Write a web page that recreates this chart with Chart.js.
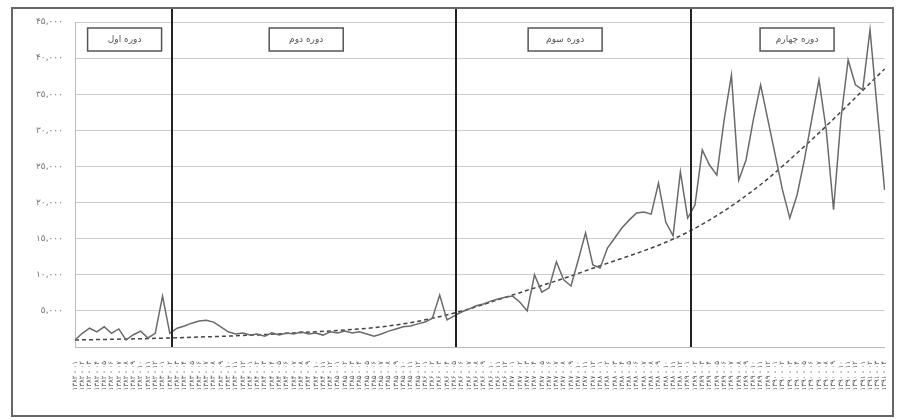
<!DOCTYPE html>
<html>
<head>
<meta charset="utf-8">
<script src="https://cdn.jsdelivr.net/npm/chart.js@4.4.1/dist/chart.umd.min.js"></script>
<style>
  html, body { margin: 0; padding: 0; background: #fff; }
  #wrap { width: 899px; height: 420px; }
</style>
</head>
<body>
<div id="wrap"><canvas id="grafico"></canvas></div>
<script>
const fa = s => String(s).replace(/\d/g, d => '۰۱۲۳۴۵۶۷۸۹'[d]);

// monthly labels
const anos = [1382, 1383, 1384, 1385, 1386, 1387, 1388, 1389, 1390, 1391];
const meses = ['۰۱', '۰۲', '۰۳', '۰۴', '۰۵', '۰۶', '۰۷', '۰۸', '۰۹', '۱۰', '۱۱', '۱۲'];
const rotulos = [];
anos.forEach(a => meses.forEach(m => rotulos.push(fa(a) + ' - ' + m)));
rotulos.length = 112;

const serie = [
  970, 1900, 2600, 2100, 2800, 1900, 2500, 970, 1700, 2200, 1250, 1900, 7050,
  1900, 2600, 2900, 3300, 3600, 3700, 3450, 2800, 2100, 1800, 1950, 1650, 1800,
  1500, 1950, 1650, 1950, 1800, 2100, 1800, 1950, 1650, 2100, 1950, 2200, 1950,
  2100, 1800, 1500, 1800, 2200, 2500, 2800, 2900, 3200, 3450, 4000, 7200, 3750,
  4300, 4850, 5250, 5700, 5950, 6350, 6650, 6900, 7050, 6200, 5000, 10000, 7600,
  8200, 11800, 9300, 8450, 12050, 15800, 11350, 10950, 13700, 15100, 16500, 17600,
  18550, 18700, 18400, 22700, 17300, 15400, 24250, 17850,
  19650, 27300, 25200, 23800, 31450, 37650, 23100, 25900, 31450, 36300, 31450,
  26600, 21750, 17850, 21050, 25900, 31450, 37000, 30050, 19000, 31450, 39750,
  36300, 35600, 43900, 32800, 21750
];

// trend read at a few points
const tendIdx = [0, 13, 30, 44, 52, 60, 71, 84, 93, 101, 111];
const tendVal = [970, 1250, 1940, 3050, 4700, 7200, 10900, 15900, 21700, 28700, 38500];
const tendencia = rotulos.map(() => null);
tendIdx.forEach((i, k) => { tendencia[i] = tendVal[k]; });

const separadores = [13.25, 52.2, 84.4];
const periodos = ['دوره اول', 'دوره دوم', 'دوره سوم', 'دوره چهارم'];
const centros = [6.8, 31.7, 67.2, 99.0];

const extras = {
  id: 'extras',
  afterDatasetsDraw(chart) {
    const { ctx, chartArea, scales: { x } } = chart;
    ctx.save();
    ctx.strokeStyle = '#222';
    ctx.lineWidth = 2;
    separadores.forEach(s => {
      const px = Math.round(x.getPixelForValue(s));
      ctx.beginPath();
      ctx.moveTo(px, 9);
      ctx.lineTo(px, chartArea.bottom);
      ctx.stroke();
    });
    ctx.font = '9px "DejaVu Sans"';
    ctx.textAlign = 'center';
    ctx.textBaseline = 'middle';
    centros.forEach((c, k) => {
      const px = x.getPixelForValue(c);
      ctx.fillStyle = '#fff';
      ctx.fillRect(px - 37, 28, 74, 23);
      ctx.strokeStyle = '#555';
      ctx.lineWidth = 1.5;
      ctx.strokeRect(px - 37, 28, 74, 23);
      ctx.fillStyle = '#555';
      ctx.fillText(periodos[k], px, 40);
    });
    ctx.strokeStyle = '#666';
    ctx.lineWidth = 2;
    ctx.strokeRect(12, 8, 881, 408);
    ctx.restore();
  }
};

new Chart(document.getElementById('grafico'), {
  type: 'line',
  data: {
    labels: rotulos,
    datasets: [{
      data: serie,
      borderColor: '#6a6a6a',
      borderWidth: 1.5,
      pointRadius: 0,
      tension: 0
    }, {
      data: tendencia,
      borderColor: '#444',
      borderWidth: 1.5,
      borderDash: [4, 3],
      pointRadius: 0,
      spanGaps: true,
      tension: 0.4,
      cubicInterpolationMode: 'monotone'
    }]
  },
  options: {
    responsive: true,
    maintainAspectRatio: false,
    animation: false,
    layout: { padding: { left: 14, right: 5, top: 22, bottom: 4 } },
    plugins: { legend: { display: false }, tooltip: { enabled: false } },
    scales: {
      x: {
        grid: { display: false },
        border: { color: '#bbb' },
        ticks: {
          autoSkip: false, minRotation: 90, maxRotation: 90,
          font: { size: 7, family: 'DejaVu Sans' }, color: '#555', padding: 6
        },
        afterFit: s => { s.height = 69; }
      },
      y: {
        min: 0, max: 45000,
        grid: { color: '#ccc', drawTicks: false },
        border: { color: '#bbb' },
        ticks: {
          stepSize: 5000, padding: 12,
          font: { size: 9, family: 'DejaVu Sans' }, color: '#777',
          callback: v => v === 0 ? '' : fa(v.toLocaleString('en-US'))
        },
        afterFit: s => { s.width = 61; }
      }
    }
  },
  plugins: [extras]
});
</script>
</body>
</html>
